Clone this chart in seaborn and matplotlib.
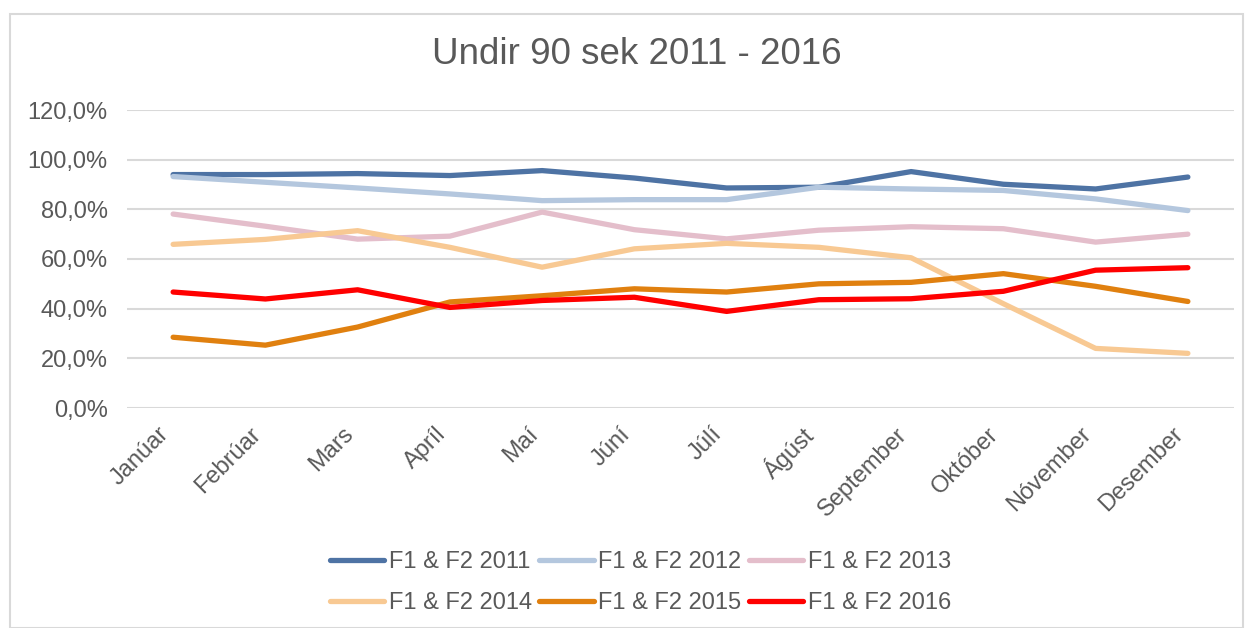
import matplotlib
matplotlib.use("Agg")
import matplotlib.pyplot as plt
import seaborn as sns
import pandas as pd
from matplotlib.patches import Rectangle
from matplotlib.ticker import FuncFormatter

months = ["Janúar", "Febrúar", "Mars", "Apríl", "Maí", "Júní", "Júlí",
          "Ágúst", "September", "Október", "Nóvember", "Desember"]

s2011 = [94.0, 94.0, 94.4, 93.6, 95.6, 92.6, 88.6, 88.9, 95.2, 90.1, 88.2, 93.0]
s2012 = [93.2, 90.9, 88.6, 86.2, 83.5, 83.9, 83.9, 88.9, 88.2, 87.6, 84.2, 79.5]
s2013 = [78.1, 73.2, 68.0, 69.2, 78.9, 71.8, 68.1, 71.6, 73.0, 72.2, 66.8, 70.0]
s2014 = [65.9, 67.9, 71.4, 64.7, 56.7, 64.1, 66.3, 64.7, 60.5, 42.0, 24.0, 22.0]
s2015 = [28.5, 25.3, 32.6, 42.7, 45.2, 48.0, 46.7, 50.0, 50.6, 54.1, 49.0, 42.9]
s2016 = [46.7, 43.9, 47.6, 40.5, 43.3, 44.6, 38.9, 43.6, 44.0, 47.0, 55.5, 56.5]

series_names = ["F1 & F2 2011", "F1 & F2 2012", "F1 & F2 2013",
                "F1 & F2 2014", "F1 & F2 2015", "F1 & F2 2016"]
series_values = [s2011, s2012, s2013, s2014, s2015, s2016]
colors = ["#4E73A4", "#B4C7DE", "#E4BECB", "#F8C993", "#E0800F", "#FF0000"]

rows = []
for name, vals in zip(series_names, series_values):
    for i, v in enumerate(vals):
        rows.append({"idx": i, "value": v, "series": name})
df = pd.DataFrame(rows)

sns.set_style("white")
plt.rcParams["font.family"] = ["Liberation Sans", "DejaVu Sans"]
text_color = "#595959"
grid_color = "#D9D9D9"
lw = 3.8

fig = plt.figure(figsize=(12.51, 6.28), dpi=100)
ax = fig.add_axes([127 / 1251, 1 - 408 / 628, (1234 - 127) / 1251, (408 - 110) / 628])

sns.lineplot(data=df, x="idx", y="value", hue="series", hue_order=series_names,
             palette=dict(zip(series_names, colors)), linewidth=lw,
             solid_capstyle="round", ax=ax, legend=False)

ax.set_xlim(-0.5, 11.5)
ax.set_ylim(0, 120)
ax.set_yticks(range(0, 121, 20))
ax.yaxis.set_major_formatter(FuncFormatter(lambda v, p: f"{v:.1f}%".replace(".", ",")))
ax.set_xticks(range(len(months)))
ax.set_xticklabels(months, rotation=45, ha="right", rotation_mode="default")
ax.tick_params(axis="y", length=0, pad=14, labelsize=17, labelcolor=text_color)
ax.tick_params(axis="x", length=0, pad=11, labelsize=17, labelcolor=text_color)
ax.set_xlabel("")
ax.set_ylabel("")
ax.grid(axis="y", color=grid_color, linewidth=1.5)
ax.grid(axis="x", visible=False)
ax.set_axisbelow(True)
for sp in ax.spines.values():
    sp.set_visible(False)

fig.text(637 / 1251, 1 - 55 / 628, "Undir 90 sek 2011 - 2016", ha="center", va="center",
         fontsize=26.5, color=text_color)

handles = [plt.Line2D([], [], color=c, linewidth=lw, solid_capstyle="round") for c in colors]
order = [0, 3, 1, 4, 2, 5]
fig.legend([handles[i] for i in order], [series_names[i] for i in order],
           loc="center", bbox_to_anchor=(640.5 / 1251, 1 - 582.5 / 628),
           ncol=3, frameon=False, fontsize=17, labelcolor=text_color,
           handlelength=2.3, handletextpad=0.2, columnspacing=0.3, labelspacing=0.8)

fig.patches.append(Rectangle((10 / 1251, 0.5 / 628), (1243 - 10) / 1251, (628 - 14.5) / 628,
                             transform=fig.transFigure, fill=False, edgecolor=grid_color,
                             linewidth=1.5))

fig.savefig("out.png", dpi=100)
